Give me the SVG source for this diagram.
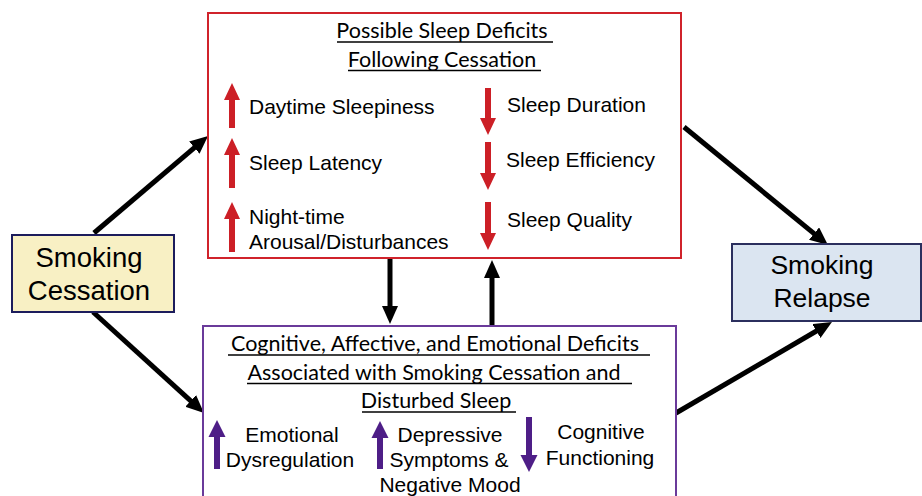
<svg xmlns="http://www.w3.org/2000/svg" width="922" height="496" viewBox="0 0 922 496">
  <style>
    .sans { font-family: "Liberation Sans", Arial, sans-serif; fill: #000; }
    .title { font-family: Lato, "Liberation Sans", sans-serif; font-size: 21.5px; fill: #000; text-anchor: middle; }
    .item { font-size: 21px; }
    .mid { text-anchor: middle; }
    .uline { stroke: #000; stroke-width: 1.3; }
    .conn { stroke: #000; stroke-width: 5; fill: none; marker-end: url(#head); }
    .red { fill: #cc1f26; }
    .purple { fill: #4e1e87; }
  </style>
  <defs>
    <marker id="head" markerUnits="userSpaceOnUse" markerWidth="20" markerHeight="18" refX="6" refY="8" orient="auto">
      <path d="M0,0 L18,8 L0,16 z" fill="#000"/>
    </marker>
  </defs>

  <!-- connectors -->
  <g id="connectors">
    <line class="conn" x1="94" y1="233" x2="198.9" y2="143.8"/>
    <line class="conn" x1="93" y1="312" x2="195.1" y2="404.9"/>
    <line class="conn" x1="684" y1="127" x2="818.7" y2="237.4"/>
    <line class="conn" x1="676" y1="413" x2="821.6" y2="328"/>
    <line class="conn" x1="390" y1="259" x2="390" y2="312"/>
    <line class="conn" x1="492" y1="325" x2="492" y2="272"/>
  </g>

  <!-- Smoking Cessation -->
  <g id="cessation">
    <rect x="12" y="235" width="162" height="77" fill="#f8f0c4" stroke="#1c1c5c" stroke-width="2"/>
    <text class="sans mid" x="89" y="267" font-size="27.5">Smoking</text>
    <text class="sans mid" x="89" y="300" font-size="27.5">Cessation</text>
  </g>

  <!-- Smoking Relapse -->
  <g id="relapse">
    <rect x="732" y="244" width="189" height="77" fill="#dbe5f1" stroke="#2b2f5e" stroke-width="2"/>
    <text class="sans mid" x="822" y="274" font-size="26.5">Smoking</text>
    <text class="sans mid" x="822" y="307" font-size="26.5">Relapse</text>
  </g>

  <!-- Sleep deficits -->
  <g id="sleep-deficits">
    <rect x="208" y="13" width="473" height="245" fill="#fff" stroke="#d0232b" stroke-width="2"/>
    <text class="title" x="442" y="38">Possible Sleep Deficits</text>
    <line class="uline" x1="337" y1="42" x2="553" y2="42"/>
    <text class="title" x="442" y="67">Following Cessation</text>
    <line class="uline" x1="348" y1="70.5" x2="541" y2="70.5"/>

    <path class="red" d="M229,128 V100 H224 L232,83 L240,100 H235 V128 Z"/>
    <path class="red" d="M229,188 V155 H224 L232,138 L240,155 H235 V188 Z"/>
    <path class="red" d="M229,252 V219 H224 L232,202 L240,219 H235 V252 Z"/>
    <path class="red" d="M485,88 V118 H480 L488,135 L496,118 H491 V88 Z"/>
    <path class="red" d="M485,142 V173 H480 L488,190 L496,173 H491 V142 Z"/>
    <path class="red" d="M485,202 V233 H480 L488,250 L496,233 H491 V202 Z"/>

    <text class="sans item" x="249" y="114">Daytime Sleepiness</text>
    <text class="sans item" x="249" y="170">Sleep Latency</text>
    <text class="sans item" x="249" y="224">Night-time</text>
    <text class="sans item" x="249" y="249">Arousal/Disturbances</text>
    <text class="sans item" x="507" y="112">Sleep Duration</text>
    <text class="sans item" x="506" y="167">Sleep Efficiency</text>
    <text class="sans item" x="507" y="227">Sleep Quality</text>
  </g>

  <!-- Cognitive, affective and emotional deficits -->
  <g id="cognitive-deficits">
    <rect x="203" y="326" width="473" height="190" fill="#fff" stroke="#6a3a9a" stroke-width="2"/>
    <text class="title" x="435" y="351">Cognitive, Affective, and Emotional Deficits</text>
    <line class="uline" x1="228" y1="355" x2="650" y2="355"/>
    <text class="title" x="434" y="380">Associated with Smoking Cessation and</text>
    <line class="uline" x1="247" y1="383.5" x2="632" y2="383.5"/>
    <text class="title" x="436" y="408">Disturbed Sleep</text>
    <line class="uline" x1="362" y1="412" x2="516" y2="412"/>

    <path class="purple" d="M214,469 V437 H208.5 L217,420 L225.5,437 H220 V469 Z"/>
    <path class="purple" d="M377,469 V438 H371.5 L380,421 L388.5,438 H383 V469 Z"/>
    <path class="purple" d="M526,417 V455 H520.5 L529,472 L537.5,455 H532 V417 Z"/>

    <text class="sans item mid" x="292" y="442">Emotional</text>
    <text class="sans item mid" x="290" y="467">Dysregulation</text>
    <text class="sans item mid" x="450" y="442">Depressive</text>
    <text class="sans item mid" x="449" y="467">Symptoms &amp;</text>
    <text class="sans item mid" x="450" y="492">Negative Mood</text>
    <text class="sans item mid" x="601" y="439">Cognitive</text>
    <text class="sans item mid" x="600" y="465">Functioning</text>
  </g>
</svg>
